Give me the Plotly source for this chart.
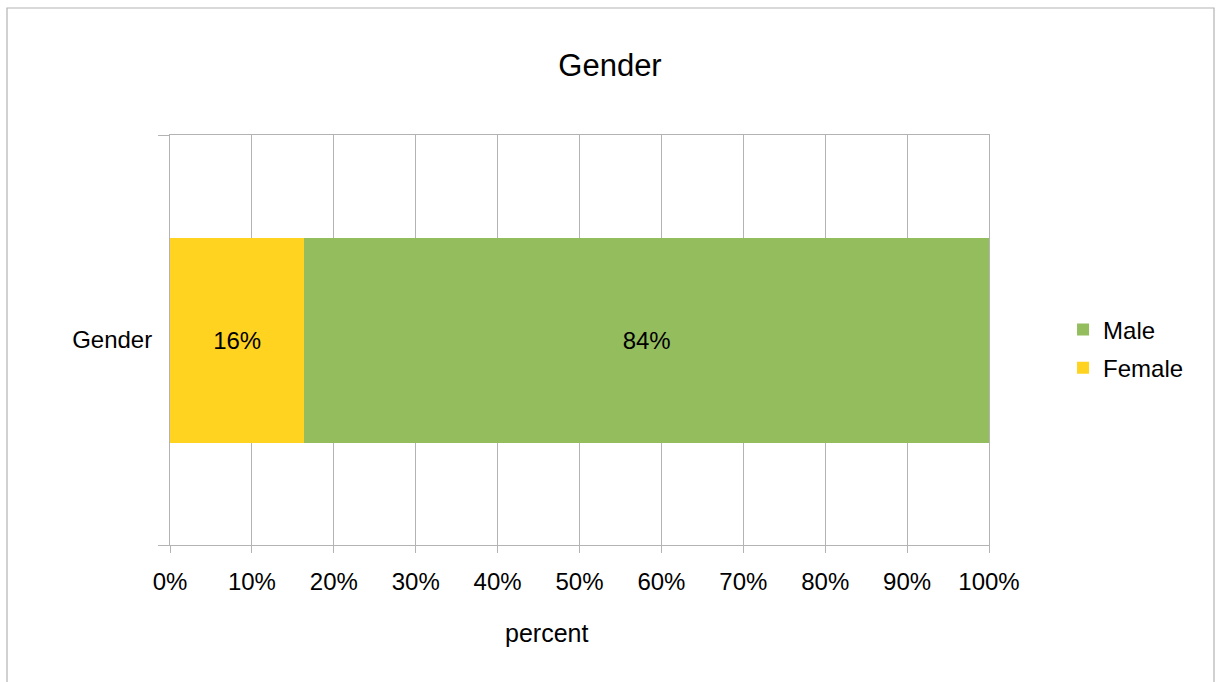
import plotly.graph_objects as go

categories = ["Gender"]
series_names = ["Female", "Male"]
female_values = [16.4]
male_values = [83.6]
colors = {"Female": "#ffd320", "Male": "#94bd5e"}
legend_rank = {"Male": 1, "Female": 2}
x_ticks = list(range(0, 101, 10))
x_tick_labels = [f"{v}%" for v in x_ticks]

FONT = "Liberation Sans, Arial, sans-serif"
GRID = "#b3b3b3"

fig = go.Figure()
for name, vals in (("Female", female_values), ("Male", male_values)):
    fig.add_trace(go.Bar(
        y=categories, x=vals, name=name, orientation="h", legendgroup=name,
        legendrank=legend_rank[name],
        marker=dict(color=colors[name], line=dict(width=0)),
        texttemplate="%{x:.0f}%", textposition="inside", insidetextanchor="middle",
        textfont=dict(family=FONT, size=24, color="#000000"),
        hoverinfo="skip",
    ))

fig.update_layout(
    width=1216, height=682,
    barmode="stack", bargap=0.5,
    paper_bgcolor="white", plot_bgcolor="white",
    margin=dict(l=170, r=227, t=135, b=137),
    font=dict(family=FONT, size=24, color="#000000"),
    title=dict(text="Gender", x=610 / 1216, xref="container", xanchor="center",
               y=1 - 65 / 682, yref="container", yanchor="middle",
               font=dict(family=FONT, size=31, color="#000000")),
    legend=dict(x=1.0904, xanchor="left", y=0.478, yanchor="middle",
                traceorder="grouped", font=dict(family=FONT, size=24),
                itemsizing="constant", tracegroupgap=4, bgcolor="rgba(0,0,0,0)"),
    xaxis=dict(range=[0, 100], tickmode="array", tickvals=x_ticks, ticktext=x_tick_labels,
               showgrid=True, gridcolor=GRID, gridwidth=1,
               showline=True, linecolor=GRID, linewidth=1, mirror=True,
               ticks="outside", ticklen=7, tickcolor=GRID, ticklabelstandoff=8,
               zeroline=False, fixedrange=True,
               tickfont=dict(family=FONT, size=24)),
    yaxis=dict(type="category", tickson="boundaries",
               showgrid=False, showline=True, linecolor=GRID, linewidth=1, mirror=True,
               ticks="outside", ticklen=11, tickcolor=GRID, ticklabelstandoff=12,
               tickfont=dict(family=FONT, size=24), fixedrange=True),
    annotations=[dict(text="percent", xref="paper", yref="paper",
                      x=(546 - 170) / 819, y=(545 - 633) / 410,
                      xanchor="center", yanchor="middle", showarrow=False,
                      font=dict(family=FONT, size=25, color="#000000"))],
    shapes=[dict(type="rect", xref="paper", yref="paper",
                 x0=(7 - 170) / 819, x1=(1214 - 170) / 819,
                 y0=(545 - 700) / 410, y1=(545 - 8) / 410,
                 line=dict(color=GRID, width=1.2), fillcolor="rgba(0,0,0,0)", layer="below")],
)

fig.write_html("out.html")
